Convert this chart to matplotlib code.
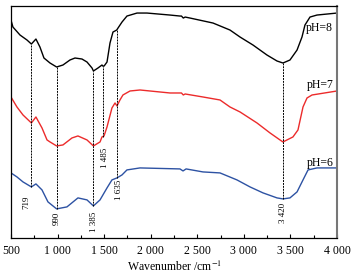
import numpy as np
import matplotlib
matplotlib.use("Agg")
import matplotlib.pyplot as plt
from matplotlib.ticker import MultipleLocator, FuncFormatter

plt.rcParams['font.family'] = ['Liberation Serif', 'DejaVu Serif']
plt.rcParams['mathtext.fontset'] = 'stix'

# FTIR spectra (transmittance, arbitrary units, stacked)
wn_8 = [500, 521, 597, 672, 719, 768, 811, 854, 919, 990, 1058, 1133, 1187, 1262, 1316,
        1370, 1385, 1434, 1477, 1485, 1500, 1531, 1563, 1595, 1635, 1649, 1692, 1745,
        1853, 1960, 2207, 2314, 2330, 2350, 2370, 2422, 2669, 2851, 2959, 3098, 3248,
        3356, 3420, 3495, 3571, 3624, 3656, 3710, 3785, 4000]
t_8 = [255, 248, 240, 235, 231, 236, 228, 217, 212, 208, 210, 215, 217, 216, 213,
       207, 204, 207, 210, 209, 209, 213, 232, 243, 245, 247, 253, 259,
       262, 262, 260, 259, 259, 257, 258, 257, 252, 245, 238, 230, 220,
       214, 212, 215, 225, 238, 250, 258, 260, 262]

wn_7 = [500, 564, 629, 719, 768, 833, 887, 919, 990, 1058, 1155, 1219, 1316, 1385,
        1456, 1477, 1499, 1531, 1584, 1617, 1638, 1670, 1702, 1778, 1885, 2207, 2330,
        2350, 2370, 2561, 2744, 2851, 2959, 3141, 3281, 3388, 3420, 3527, 3581, 3635,
        3678, 3732, 4000]
t_7 = [178, 168, 160, 152, 158, 147, 135, 133, 129, 130, 137, 139, 135, 129,
       133, 138, 139, 148, 167, 172, 169, 175, 180, 184, 185, 182, 182,
       180, 181, 178, 175, 168, 163, 152, 142, 135, 133, 138, 145, 168,
       177, 180, 184]

wn_6 = [500, 564, 629, 719, 768, 833, 897, 990, 1101, 1219, 1316, 1385, 1456, 1531,
        1584, 1638, 1692, 1745, 1885, 2314, 2347, 2380, 2561, 2744, 2926, 3066, 3206,
        3356, 3420, 3495, 3571, 3635, 3689, 3785, 4000]
t_6 = [102, 98, 93, 88, 91, 85, 73, 66, 68, 77, 75, 69, 75, 87,
       95, 97, 100, 105, 107, 106, 104, 106, 103, 102, 95, 88, 82,
       77, 76, 77, 83, 95, 105, 107, 107]

peaks = [719, 990, 1385, 1485, 1635, 3420]
peak_labels = ['719', '990', '1 385', '1 485', '1 635', '3 420']
label_x = [660, 990, 1390, 1510, 1665, 3420]
label_y = [79, 63, 63, 127, 95, 72]

fig = plt.figure(figsize=(3.54, 2.75), dpi=100)
ax = fig.add_axes([0.031, 0.135, 0.921, 0.843])

ax.plot(wn_8, t_8, color='black', lw=1.0)
ax.plot(wn_7, t_7, color='#ec2b2b', lw=1.0)
ax.plot(wn_6, t_6, color='#2d52a3', lw=1.0)

for p, lab, lx, ly in zip(peaks, peak_labels, label_x, label_y):
    top = np.interp(p, wn_8, t_8)
    if p == 1485:
        bot = np.interp(p, wn_7, t_7)
    else:
        bot = np.interp(p, wn_6, t_6)
    ax.plot([p, p], [bot, top], color='black', lw=0.7, ls=(0, (2, 1)))
    ax.text(lx, ly, lab, rotation=90, ha='center', va='top', fontsize=6.5)

ax.text(3960, 247, 'pH=8', ha='right', va='center', fontsize=8.5)
ax.text(3960, 190, 'pH=7', ha='right', va='center', fontsize=8.5)
ax.text(3960, 112, 'pH=6', ha='right', va='center', fontsize=8.5)

ax.set_xlim(500, 4000)
ax.set_ylim(37, 269)
ax.set_yticks([])
ax.xaxis.set_major_locator(MultipleLocator(500))
ax.xaxis.set_minor_locator(MultipleLocator(250))
ax.xaxis.set_major_formatter(FuncFormatter(
    lambda v, pos: f'{int(v):,}'.replace(',', ' ')))
ax.tick_params(axis='x', which='major', direction='in', length=3, width=0.8,
               labelsize=8.5, pad=5)
ax.tick_params(axis='x', which='minor', direction='in', length=2, width=0.8)
ax.set_xlabel('Wavenumber /cm$^{-1}$', fontsize=8.5, labelpad=2)

for s in ax.spines.values():
    s.set_linewidth(0.9)
ax.spines['right'].set_color('#777777')
ax.spines['right'].set_linewidth(1.5)

fig.savefig('out.png', dpi=100)
